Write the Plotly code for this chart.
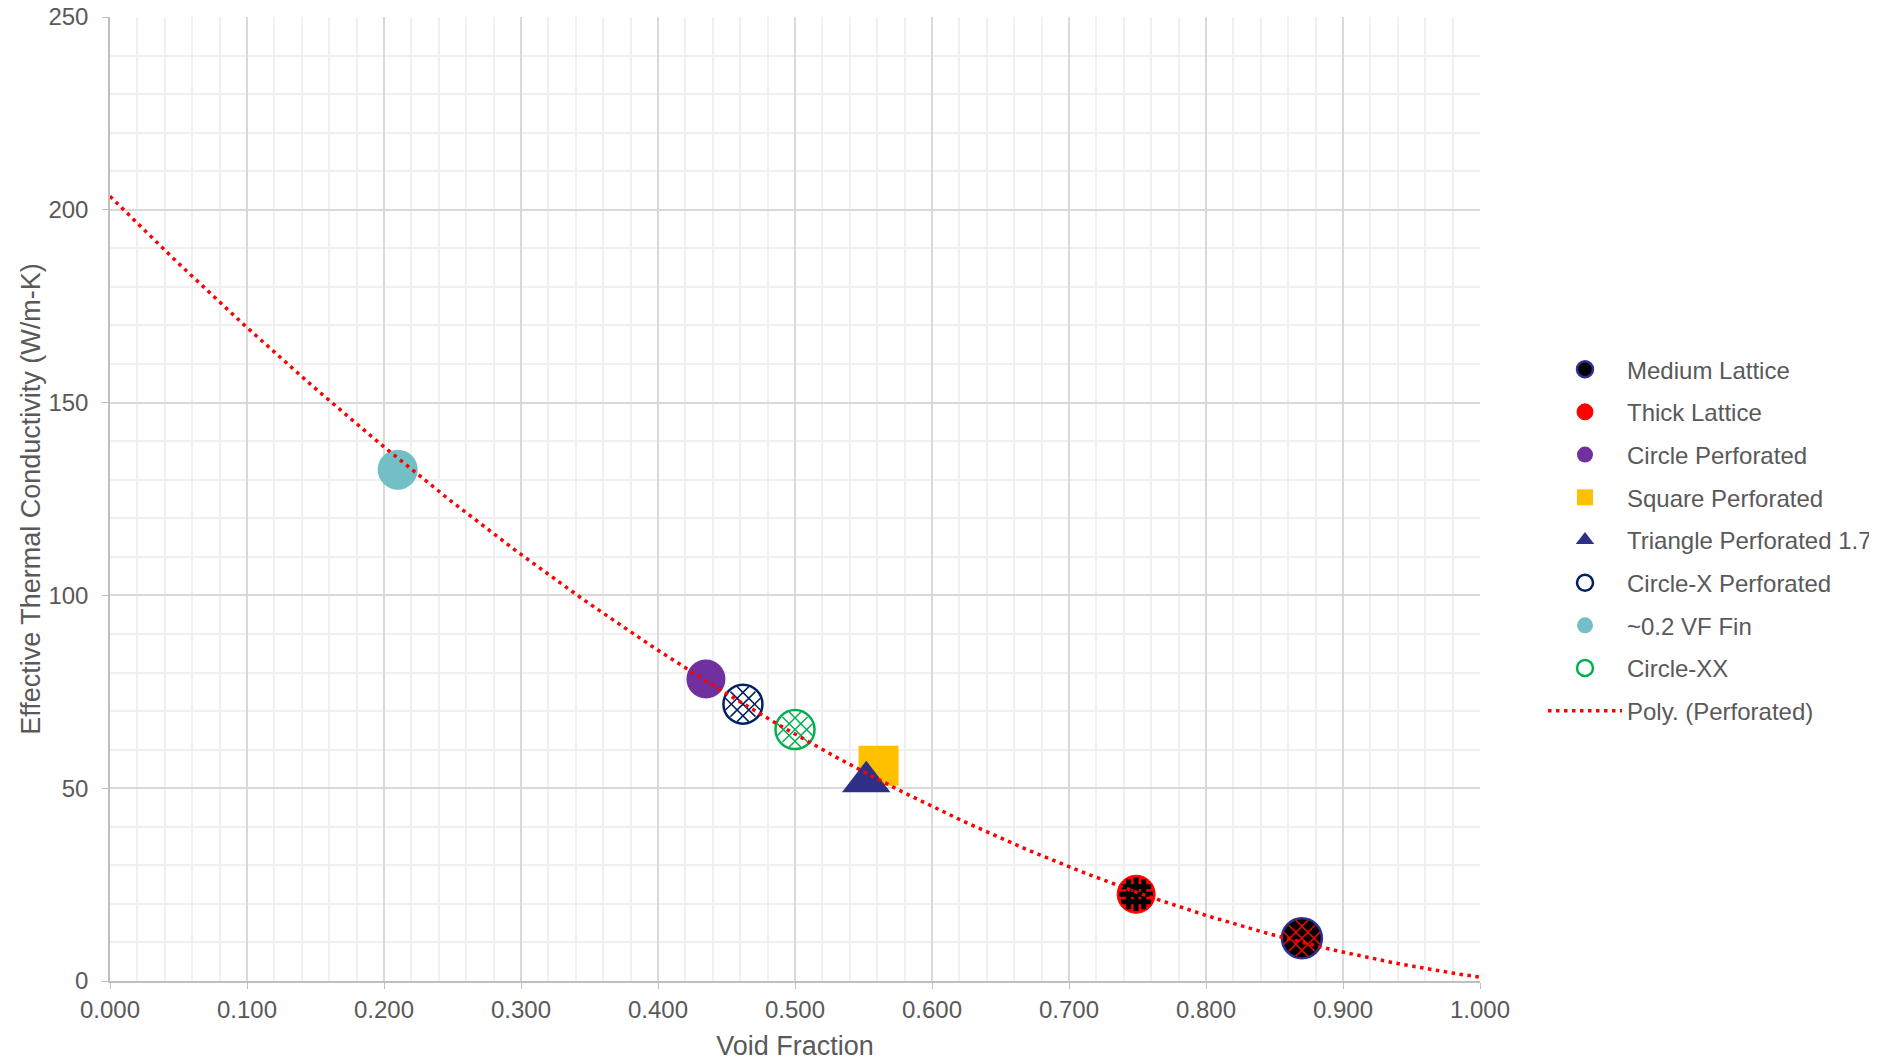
import numpy as np
import plotly.graph_objects as go

# ---- data ----
series_names = ["Medium Lattice", "Thick Lattice", "Circle Perforated", "Square Perforated",
                "Triangle Perforated 1.7", "Circle-X Perforated", "~0.2 VF Fin", "Circle-XX"]
void_fraction = [0.870, 0.749, 0.435, 0.561, 0.552, 0.462, 0.210, 0.500]
conductivity = [11.1, 22.5, 78.3, 55.8, 51.7, 71.8, 132.6, 65.2]

# polynomial trendline coefficients (order 2)
trend_name = "Poly. (Perforated)"
trend_coeffs = [153.0, -355.5, 203.5]
trend_x_range = [0.0, 1.0]

x_ticks = [0.0, 0.1, 0.2, 0.3, 0.4, 0.5, 0.6, 0.7, 0.8, 0.9, 1.0]
y_ticks = [0, 50, 100, 150, 200, 250]

FONT = "Liberation Sans, Arial, sans-serif"
GREY = "#595959"

styles = {
    "Medium Lattice": dict(symbol="circle", size=40, color="#000000", line=dict(color="#2E3192", width=2.5)),
    "Thick Lattice": dict(symbol="circle", size=38, color="#FF0000", line=dict(color="#FF0000", width=1)),
    "Circle Perforated": dict(symbol="circle", size=39, color="#7030A0", line=dict(width=0)),
    "Square Perforated": dict(symbol="square", size=40, color="#FFC000", line=dict(width=0)),
    "Triangle Perforated 1.7": dict(symbol="triangle-up", size=42, color="#2E3087", line=dict(width=0)),
    "Circle-X Perforated": dict(symbol="circle", size=39, color="#FFFFFF", line=dict(color="#002060", width=2.5)),
    "~0.2 VF Fin": dict(symbol="circle", size=40, color="#72BFC6", line=dict(width=0)),
    "Circle-XX": dict(symbol="circle", size=39, color="#FFFFFF", line=dict(color="#00B050", width=2.5)),
}
# pattern overlays (approximate Excel pattern fills)
patterns = {
    "Medium Lattice": ("#FF0000", [("hash", 34, 45, 1.5), ("x-thin", 26, 0, 1.5)]),
    "Thick Lattice": ("#000000", [("hash", 30, 0, 5), ("cross-thin", 24, 0, 5)]),
    "Circle-X Perforated": ("#002060", [("hash", 33, 45, 1.5), ("x-thin", 25, 0, 1.5)]),
    "Circle-XX": ("#00B050", [("hash", 33, 45, 1.5), ("x-thin", 25, 0, 1.5)]),
}

fig = go.Figure()
for name, xv, yv in zip(series_names, void_fraction, conductivity):
    fig.add_trace(go.Scatter(x=[xv], y=[yv], mode="markers", name=name,
                             legendgroup=name, marker=styles[name]))
    if name in patterns:
        col, layers = patterns[name]
        for sym, sz, ang, lw in layers:
            fig.add_trace(go.Scatter(x=[xv], y=[yv], mode="markers", showlegend=False,
                                     legendgroup=name, hoverinfo="skip",
                                     marker=dict(symbol=sym, size=sz, angle=ang, color=col,
                                                 line=dict(color=col, width=lw))))

tx = np.linspace(trend_x_range[0], trend_x_range[1], 201)
ty = np.polyval(trend_coeffs, tx)
fig.add_trace(go.Scatter(x=tx, y=ty, mode="lines", name=trend_name, legendgroup=trend_name,
                         line=dict(color="#FF0000", width=3.5, dash="3.5px,4.5px")))

axis_common = dict(showline=True, linecolor="#BFBFBF", linewidth=1.5,
                   ticks="outside", tickcolor="#BFBFBF", ticklen=6,
                   gridcolor="#D9D9D9", gridwidth=1.5, zeroline=False, automargin=False,
                   ticklabeloverflow="allow",
                   tickfont=dict(family=FONT, size=24, color=GREY))

fig.update_xaxes(range=[0, 1], tickvals=x_ticks, tickformat=".3f", ticklabelstandoff=0,
                 minor=dict(dtick=0.02, showgrid=True, gridcolor="#F0F0F0", gridwidth=1.5),
                 title=dict(text="Void Fraction", font=dict(family=FONT, size=27, color=GREY), standoff=15),
                 **axis_common)
fig.update_yaxes(range=[0, 250], tickvals=y_ticks, ticklabelstandoff=9,
                 minor=dict(dtick=10, showgrid=True, gridcolor="#F0F0F0", gridwidth=1.5),
                 title=dict(text="Effective Thermal Conductivity (W/m-K)",
                            font=dict(family=FONT, size=27, color=GREY), standoff=0),
                 **axis_common)

# the page puts the figure 8 px in from the top-left corner
fig.update_layout(
    width=1877, height=1058,
    margin=dict(l=102, r=405, t=9, b=85),
    plot_bgcolor="white", paper_bgcolor="white",
    font=dict(family=FONT, color=GREY),
    legend=dict(xref="container", yref="container", x=0.8178, y=0.4971, yanchor="middle",
                xanchor="left", font=dict(family=FONT, size=24, color=GREY),
                itemwidth=74,
                traceorder="grouped", tracegroupgap=8.5, bgcolor="rgba(0,0,0,0)"),
    showlegend=True,
)

fig.write_html("out.html")
